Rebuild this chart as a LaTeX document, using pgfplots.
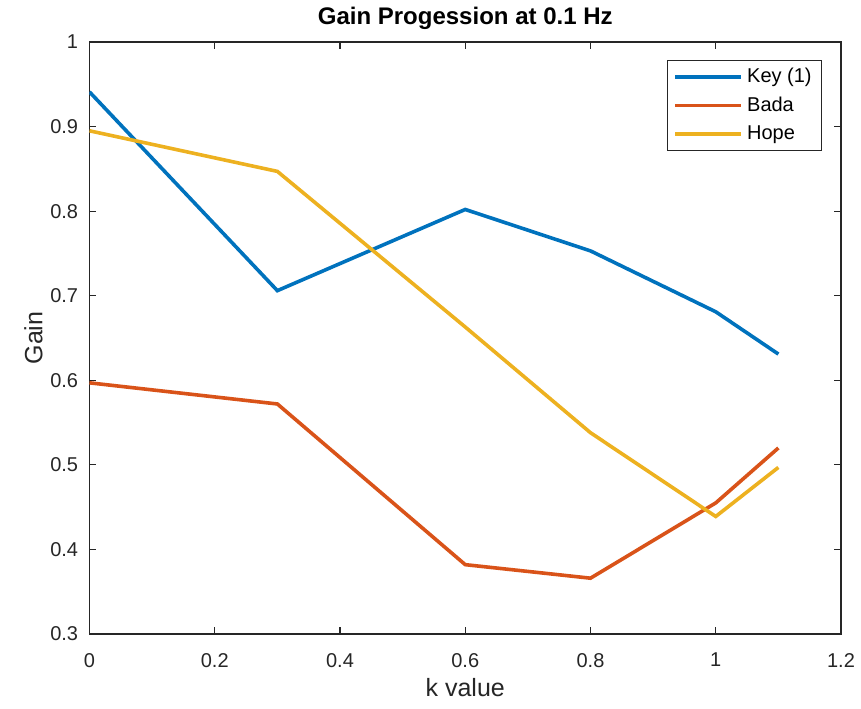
\documentclass[border=0pt]{standalone}
\usepackage{fontspec}
\setmainfont{Liberation Sans}
\usepackage{pgfplots}
\pgfplotsset{compat=1.18}

\definecolor{mblue}{rgb}{0,0.447,0.741}
\definecolor{morange}{rgb}{0.85,0.325,0.098}
\definecolor{myellow}{rgb}{0.929,0.694,0.125}
\definecolor{axgray}{HTML}{262626}

\begin{document}
\begin{tikzpicture}
\useasboundingbox (-44.75pt,-37pt) rectangle (385.75pt,317pt);
\begin{axis}[
  at={(0,0)}, anchor=south west,
  scale only axis,
  width=375.75pt, height=296pt,
  xmin=0, xmax=1.2, ymin=0.3, ymax=1,
  xtick={0,0.2,0.4,0.6,0.8,1,1.2},
  ytick={0.3,0.4,0.5,0.6,0.7,0.8,0.9,1},
  tick align=inside,
  major tick length=3.5pt,
  axis line style={axgray, line width=0.6pt},
  every tick/.style={axgray, line width=0.6pt},
  /pgf/number format/assume math mode=true,
  tick label style={font=\fontsize{10}{12}\selectfont, text=axgray},
  xticklabel style={anchor=north, inner sep=0pt, yshift=-9.4pt},
  yticklabel style={anchor=east, inner sep=0pt, xshift=-5.5pt},
  title={\textbf{Gain Progession at 0.1 Hz}},
  every axis title/.style={at={(axis description cs:0.5,1)}, anchor=center,
    yshift=12pt, font=\fontsize{12}{14}\selectfont},
  xlabel={k value},
  ylabel={Gain},
  every axis x label/.style={at={(axis description cs:0.5,0)}, anchor=center,
    yshift=-27pt, font=\fontsize{12.5}{14}\selectfont, text=axgray},
  every axis y label/.style={at={(axis description cs:0,0.5)}, xshift=-28pt,
    rotate=90, anchor=center, font=\fontsize{12.5}{14}\selectfont, text=axgray},
  legend style={at={(rel axis cs:0.975,0.97)}, anchor=north east,
    draw=axgray, line width=0.6pt, font=\fontsize{10}{12}\selectfont,
    inner xsep=3pt, inner ysep=2pt, row sep=1.5pt},
  legend cell align=left,
  legend image code/.code={\draw[#1, line width=1.8pt] (0pt,0pt) -- (33pt,0pt);},
  every axis plot/.append style={line width=1.8pt},
]
\addplot[mblue] coordinates {(0,0.941) (0.3,0.706) (0.6,0.802) (0.8,0.753) (1.0,0.681) (1.1,0.631)};
\addlegendentry{Key (1)}
\addplot[morange] coordinates {(0,0.597) (0.3,0.572) (0.6,0.382) (0.8,0.366) (1.0,0.455) (1.1,0.520)};
\addlegendentry{Bada}
\addplot[myellow] coordinates {(0,0.895) (0.3,0.847) (0.6,0.663) (0.8,0.538) (1.0,0.439) (1.1,0.497)};
\addlegendentry{Hope}
\end{axis}
\end{tikzpicture}
\end{document}
